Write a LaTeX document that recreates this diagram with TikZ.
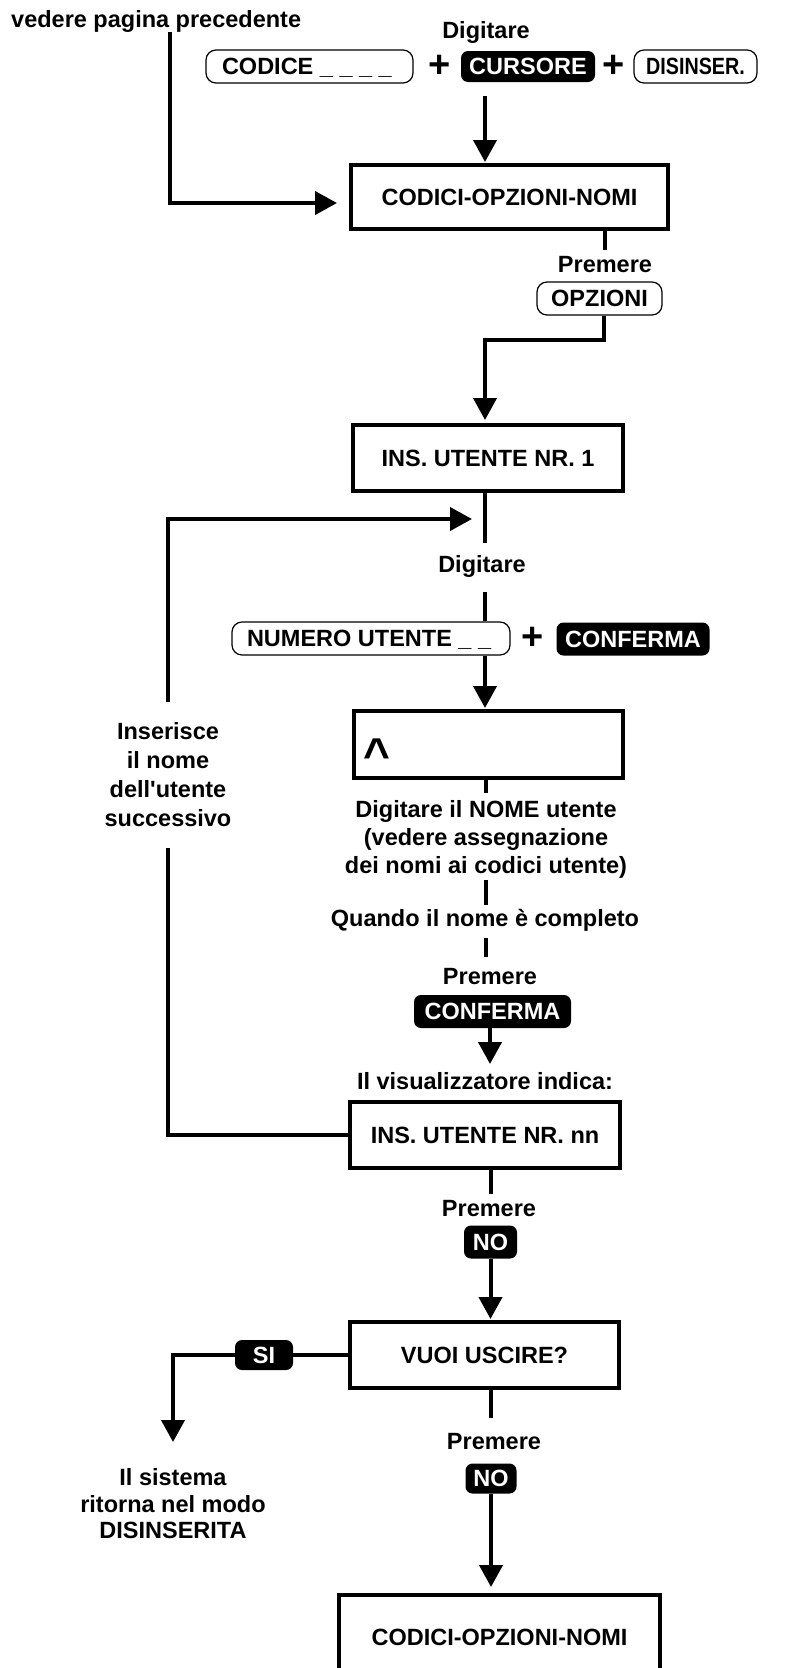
\documentclass[tikz,border=0pt]{standalone}
\usepackage{fontspec}
\setmainfont{Liberation Sans}
\usetikzlibrary{arrows.meta}
\begin{document}
\begin{tikzpicture}[x=1pt,y=-1pt,
  lbl/.style={font=\bfseries\fontsize{23.5}{28}\selectfont, inner sep=0pt, align=center},
  box/.style={lbl, draw, line width=4pt, text height=16.8pt, text depth=0pt},
  wkey/.style={lbl, draw, line width=1.2pt, rounded corners=10pt, fill=white, text height=16.8pt, text depth=0pt},
  bkey/.style={lbl, fill=black, text=white, rounded corners=7pt, text height=16.8pt, text depth=0pt},
  plus/.style={inner sep=0pt, font=\bfseries\fontsize{38}{38}\selectfont},
  conn/.style={line width=4pt},
  arr/.style={conn, -{Triangle[width=23pt,length=22pt]}},
]
\useasboundingbox (0,0) rectangle (793,1668);
\clip (0,0) rectangle (793,1668);

% ---------- boxes ----------
\node[box, minimum width=317pt, minimum height=64pt] (box1) at (509.5,197) {CODICI-OPZIONI-NOMI};
\node[box, minimum width=270pt, minimum height=66pt] (box2) at (488,458) {INS. UTENTE NR. 1};
\node[box, minimum width=269pt, minimum height=67pt] (box3) at (488.5,744.5) {};
\node[box, minimum width=270pt, minimum height=66pt] (box4) at (485,1135) {INS. UTENTE NR. nn};
\node[box, minimum width=269pt, minimum height=66pt] (box5) at (484.5,1355) {VUOI USCIRE?};
\node[box, minimum width=321pt, minimum height=103pt, text depth=18pt] (box6) at (499.5,1646.5) {CODICI-OPZIONI-NOMI};
\node[inner sep=0pt, font=\bfseries\fontsize{46}{46}\selectfont] (caret) at (377,755) {\textasciicircum};

% ---------- texts ----------
\node[lbl, anchor=base west] (vedere) at (11,27) {vedere pagina precedente};
\node[lbl, anchor=base] (dig1) at (486,38) {Digitare};
\node[lbl, anchor=base] (prem1) at (605,272) {Premere};
\node[lbl, anchor=base] (dig2) at (482,572) {Digitare};
\node[lbl] (desc) at (486,839) {Digitare il NOME utente\\(vedere assegnazione\\dei nomi ai codici utente)};
\node[lbl, anchor=base] (quando) at (485,926) {Quando il nome è completo};
\node[lbl, anchor=base] (prem2) at (490,984) {Premere};
\node[lbl, anchor=base] (visu) at (485,1089) {Il visualizzatore indica:};
\node[lbl, anchor=base] (prem3) at (489,1216) {Premere};
\node[lbl, anchor=base] (prem4) at (494,1449) {Premere};
\node[lbl, font=\bfseries\fontsize{23.5}{29}\selectfont] (ins) at (168,775) {Inserisce\\il nome\\dell\textquotesingle utente\\successivo};
\node[lbl, font=\bfseries\fontsize{23.5}{26.5}\selectfont] (sist) at (173,1504) {Il sistema\\ritorna nel modo\\DISINSERITA};

% ---------- keys ----------
\node[wkey, minimum height=33pt, inner xsep=16pt] (codice) at (309.5,66.5) {\makebox[175pt][l]{CODICE \_ \_ \_ \_}};
\node[plus] (plus1) at (440,66) {+};
\node[bkey, minimum width=134pt, minimum height=31pt] (cursore) at (528,66.5) {CURSORE};
\node[plus] (plus2) at (614,66) {+};
\node[wkey, minimum width=123pt, minimum height=33pt] (disins) at (695.5,66.5) {\addfontfeature{FakeStretch=0.84}DISINSER.};
\node[wkey, minimum width=125pt, minimum height=33pt] (opz) at (599.5,298.5) {OPZIONI};
\node[wkey, minimum height=33pt, inner xsep=15pt] (numero) at (371,638.5) {\makebox[248pt][l]{NUMERO UTENTE \_ \_}};
\node[plus] (plus3) at (533,638) {+};
\node[bkey, minimum width=153pt, minimum height=33pt] (conf1) at (633,639) {CONFERMA};
\node[bkey, minimum width=157pt, minimum height=33pt] (conf2) at (492.5,1011.5) {CONFERMA};
\node[bkey, minimum width=53pt, minimum height=33pt] (no1) at (490.5,1242) {NO};
\node[bkey, minimum width=51pt, minimum height=30pt] (no2) at (491,1478.5) {NO};
\node[bkey, minimum width=58pt, minimum height=30pt] (si) at (264,1355) {SI};

% ---------- connectors ----------
\coordinate (v1) at (170,32);
\coordinate (v2) at (170,203);
\draw[arr, shorten >=12pt] (v1) -- (v2) -- (v2 -| box1.west);

\coordinate (a1) at (485,96);
\draw[arr, shorten >=1pt] (a1) -- (a1 |- box1.north);

\coordinate (t1) at (605,250);
\draw[conn] (t1 |- box1.south) -- (t1);
\coordinate (t2) at (604,340);
\coordinate (t3) at (485,340);
\draw[arr, shorten >=3pt] (opz.south -| t2) -- (t2) -- (t3) -- (t3 |- box2.north);

\coordinate (t4) at (485,543);
\draw[conn] (t4 |- box2.south) -- (t4);
\coordinate (t5) at (485,592);
\draw[conn] (t5) -- (t5 |- numero.north);
\draw[arr, shorten >=1pt] (t5 |- numero.south) -- (t5 |- box3.north);

\coordinate (m0) at (486,793);
\draw[conn] (m0 |- box3.south) -- (m0);
\coordinate (m1a) at (486,880);
\coordinate (m1b) at (486,905);
\draw[conn] (m1a) -- (m1b);
\coordinate (m2a) at (486,938);
\coordinate (m2b) at (486,957);
\draw[conn] (m2a) -- (m2b);
\coordinate (m3) at (490,1064);
\draw[arr] (conf2.south -| m3) -- (m3);
\coordinate (m4) at (491,1194);
\draw[conn] (m4 |- box4.south) -- (m4);
\draw[arr, shorten >=1pt] (no1.south) -- (no1.south |- box5.north);
\coordinate (m5) at (491,1418);
\draw[conn] (m5 |- box5.south) -- (m5);
\draw[arr, shorten >=6pt] (no2.south) -- (no2.south |- box6.north);

% feedback loop
\coordinate (f1) at (168,848);
\coordinate (f2) at (168,702);
\coordinate (f3) at (168,519);
\coordinate (f4) at (472,519);
\draw[conn] (box4.west) -| (f1);
\draw[arr] (f2) -- (f3) -- (f4);

% SI branch
\coordinate (s1) at (173,1442);
\draw[conn] (box5.west) -- (si.east);
\draw[arr] (si.west) -| (s1);
\end{tikzpicture}
\end{document}
